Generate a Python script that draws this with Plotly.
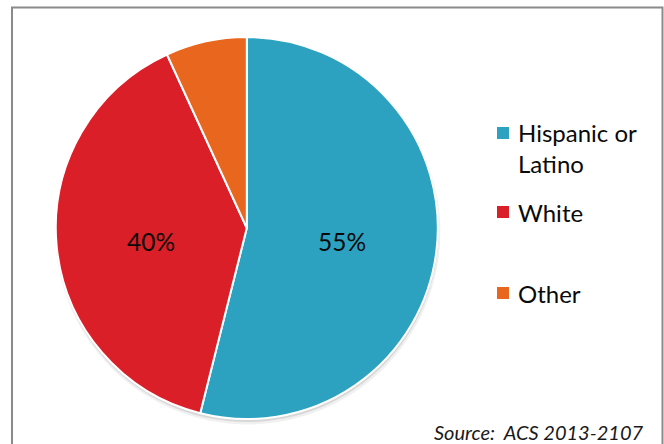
import plotly.graph_objects as go

# Population by ethnicity (percent)
categories = ["Hispanic or Latino", "White", "Other"]
legend_labels = ["Hispanic or<br>Latino", "White", "Other"]
shares = [55, 40, 7]
colors = ["#2CA2C0", "#DA1F28", "#E9661E"]
source_note = "Source:  ACS 2013-2107"

W, H = 664, 444
cx, cy, r = 246.8, 228.0, 191.0  # pie centre (px from top-left) and radius


def px_x(x):
    return x / W


def px_y(y):
    return 1 - y / H


def domain(cx, cy, r):
    return dict(x=[px_x(cx - r), px_x(cx + r)], y=[px_y(cy + r), px_y(cy - r)])


fig = go.Figure()

# soft drop shadow under the pie
for dx, dy, dr, a in [(1.0, 4.0, 1.5, 0.06), (0.5, 2.5, 0.5, 0.10)]:
    fig.add_trace(go.Pie(
        values=[1], labels=["shadow"], domain=domain(cx + dx, cy + dy, r + dr),
        marker=dict(colors=[f"rgba(0,0,0,{a})"], line=dict(width=0)),
        textinfo="none", hoverinfo="skip", showlegend=False, sort=False,
    ))

fig.add_trace(go.Pie(
    labels=categories,
    values=shares,
    domain=domain(cx, cy, r),
    sort=False,
    direction="clockwise",
    rotation=0,
    marker=dict(colors=colors, line=dict(color="white", width=2)),
    textinfo="none",
    showlegend=False,
))

annotations = []
# data labels on the two large slices
label_pos = [(342, 241), (151, 241)]
for (x, y), v in zip(label_pos, shares[:2]):
    annotations.append(dict(
        x=px_x(x), y=px_y(y), xref="paper", yref="paper",
        text=f"{v}%", showarrow=False,
        font=dict(family="Lato", size=24.5, color="#0A0A0A"),
        xanchor="center", yanchor="middle",
    ))

# legend drawn as swatches + text
legend_rows = [(133, 148), (212, 212), (293, 293)]  # (swatch y, text centre y)
shapes = []
for (sy, ty), lab, col in zip(legend_rows, legend_labels, colors):
    shapes.append(dict(
        type="rect", xref="paper", yref="paper",
        x0=px_x(497), x1=px_x(509), y0=px_y(sy + 6), y1=px_y(sy - 6),
        fillcolor=col, line=dict(width=0),
    ))
    annotations.append(dict(
        x=px_x(516), y=px_y(ty), xref="paper", yref="paper",
        text=lab, showarrow=False, align="left",
        font=dict(family="Lato", size=24, color="#0A0A0A"),
        xanchor="left", yanchor="middle",
    ))

annotations.append(dict(
    x=px_x(646), y=px_y(432), xref="paper", yref="paper",
    text=f"<i>{source_note}</i>", showarrow=False,
    font=dict(family="Lato", size=20, color="#1A1A1A"),
    xanchor="right", yanchor="middle",
))

# chart frame (open at the bottom edge)
shapes.append(dict(
    type="rect", xref="paper", yref="paper",
    x0=px_x(12), x1=px_x(662.5), y0=-0.05, y1=px_y(7.5),
    line=dict(color="#8A8A8A", width=2), fillcolor="rgba(0,0,0,0)",
))

fig.update_layout(
    width=W, height=H,
    margin=dict(l=0, r=0, t=0, b=0),
    paper_bgcolor="white", plot_bgcolor="white",
    shapes=shapes, annotations=annotations,
    showlegend=False,
)

fig.write_html("out.html")
